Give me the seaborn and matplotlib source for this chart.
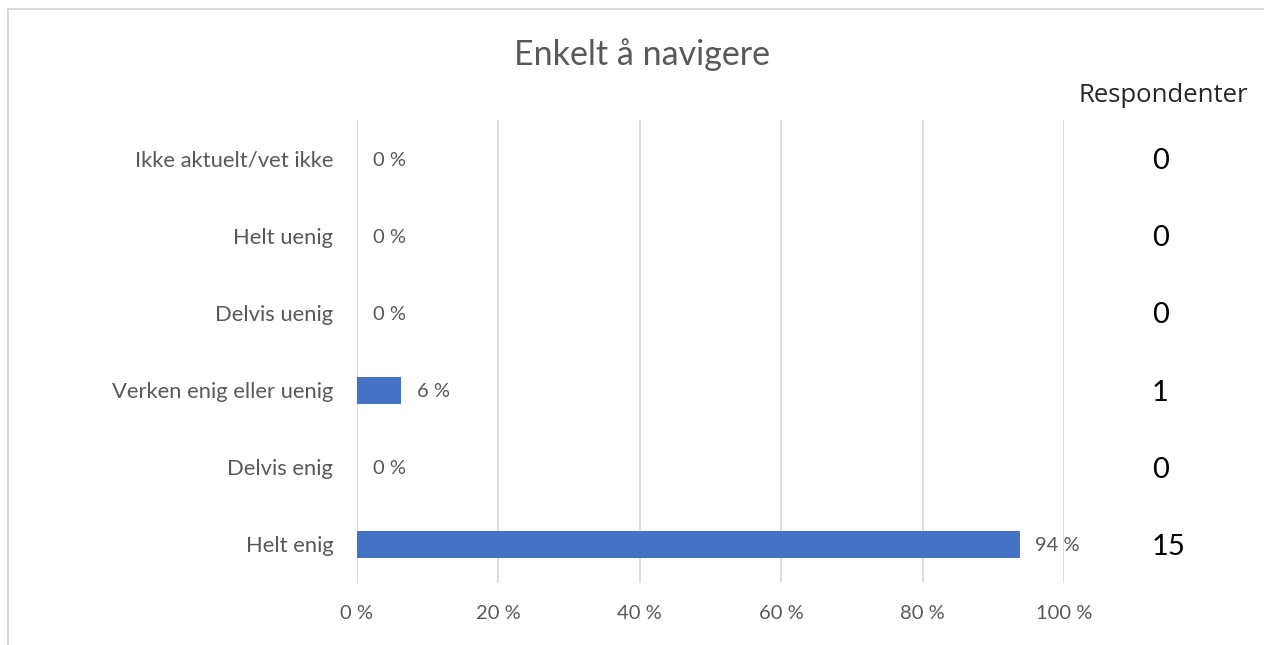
import matplotlib
matplotlib.use("Agg")
import matplotlib.pyplot as plt
import seaborn as sns
import pandas as pd
from matplotlib.lines import Line2D

categories = ["Ikke aktuelt/vet ikke", "Helt uenig", "Delvis uenig",
              "Verken enig eller uenig", "Delvis enig", "Helt enig"]
percent = [0, 0, 0, 6.25, 0, 93.75]
pct_labels = ["0 %", "0 %", "0 %", "6 %", "0 %", "94 %"]
respondents = [0, 0, 0, 1, 0, 15]
xticks = [0, 20, 40, 60, 80, 100]
xtick_labels = ["0 %", "20 %", "40 %", "60 %", "80 %", "100 %"]
title = "Enkelt å navigere"
resp_header = "Respondenter"

sns.set_theme(style="white")
plt.rcParams["font.family"] = ["Lato", "DejaVu Sans"]

df = pd.DataFrame({"cat": categories, "pct": percent})

fig = plt.figure(figsize=(12.64, 6.45), dpi=100)
ax = fig.add_axes([0.2824, 0.0961, 0.5593, 0.7178])

sns.barplot(data=df, y="cat", x="pct", orient="h", color="#4472C4",
            saturation=1, width=0.35, ax=ax, zorder=3, linewidth=0)

ax.set_xlim(0, 100)
ax.set_ylim(5.5, -0.5)
ax.set_xticks(xticks)
ax.set_xticklabels(xtick_labels, fontsize=14.5, color="#595959")
ax.tick_params(axis="y", labelsize=15.8, labelcolor="#595959", length=0, pad=17)
ax.tick_params(axis="x", length=0, pad=16)
for lbl in ax.get_yticklabels():
    lbl.set_va("center_baseline")
ax.set_xlabel("")
ax.set_ylabel("")
ax.xaxis.grid(True, color="#d9d9d9", linewidth=1.3, zorder=0)
ax.set_axisbelow(True)
for s in ax.spines.values():
    s.set_visible(False)

for i, (v, lab) in enumerate(zip(percent, pct_labels)):
    ax.text(v + 2.2, i, lab, va="center_baseline", ha="left", fontsize=14.5,
            color="#595959")

trans = ax.get_yaxis_transform()
x_resp = (1152 - 357) / (1064 - 357)
for i, r in enumerate(respondents):
    ax.text(x_resp, i, str(r), transform=trans, va="center_baseline", ha="left",
            fontsize=21, color="black")

fig.text(1163 / 1264, 1 - 95 / 645, resp_header, ha="center", va="center",
         fontsize=18.5, color="#262626", family=["Open Sans", "DejaVu Sans"])
fig.text(642 / 1264, 1 - 55 / 645, title, ha="center", va="center",
         fontsize=24.5, color="#595959")

# outer border (top and left visible)
fig.add_artist(Line2D([8 / 1264, 8 / 1264], [0, 1 - 9 / 645],
                      transform=fig.transFigure, color="#d9d9d9", linewidth=1.5))
fig.add_artist(Line2D([8 / 1264, 1], [1 - 9 / 645, 1 - 9 / 645],
                      transform=fig.transFigure, color="#d9d9d9", linewidth=1.5))

fig.savefig("out.png", dpi=100)
